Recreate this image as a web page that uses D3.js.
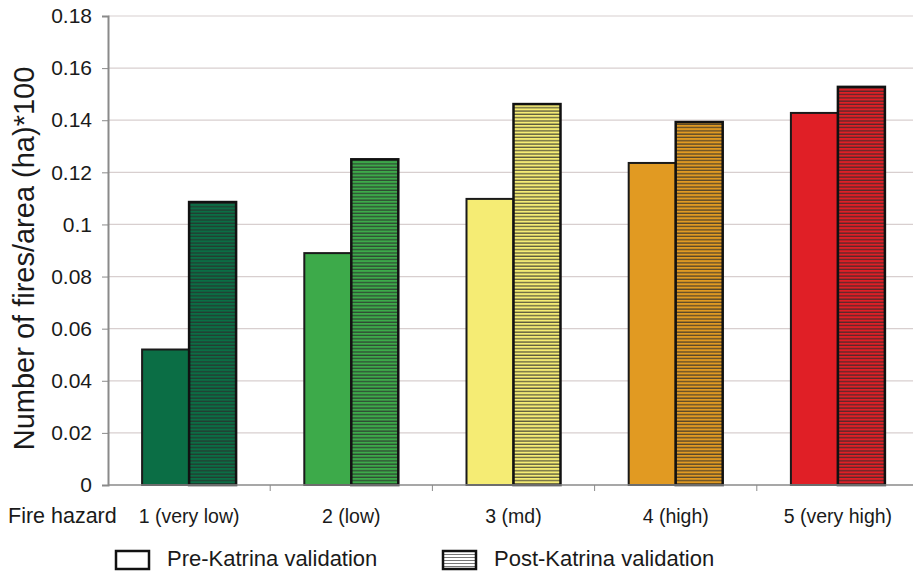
<!DOCTYPE html>
<html>
<head>
<meta charset="utf-8">
<script src="https://cdn.jsdelivr.net/npm/d3@7"></script>
<style>
body { margin: 0; background: #fff; }
text { font-family: "Liberation Sans", Arial, sans-serif; fill: #1a1a1a; }
</style>
</head>
<body>
<div id="chart"></div>
<script>
const categories = ["1 (very low)", "2 (low)", "3 (md)", "4 (high)", "5 (very high)"];
const preKatrina = [0.052, 0.089, 0.1098, 0.1236, 0.1428];
const postKatrina = [0.1086, 0.125, 0.1462, 0.1393, 0.1528];
const hazardColors = ["#0b6e45", "#3daa4a", "#f5ec74", "#e19a22", "#e01f26"];
const yTicks = [0, 0.02, 0.04, 0.06, 0.08, 0.1, 0.12, 0.14, 0.16, 0.18];
const seriesNames = ["Pre-Katrina validation", "Post-Katrina validation"];

const width = 913, height = 573;
const margin = { top: 16, right: -6, bottom: 88, left: 108 };
const innerW = width - margin.left - margin.right;
const innerH = height - margin.top - margin.bottom;

const svg = d3.select("#chart").append("svg")
    .attr("width", width)
    .attr("height", height);

const defs = svg.append("defs");
hazardColors.forEach((c, i) => {
    const p = defs.append("pattern")
        .attr("id", "stripe" + i)
        .attr("patternUnits", "userSpaceOnUse")
        .attr("width", 8)
        .attr("height", 3.3);
    p.append("rect").attr("width", 8).attr("height", 3.3).attr("fill", c);
    p.append("rect").attr("y", 2).attr("width", 8).attr("height", 1.3).attr("fill", "#2a2a2a").attr("opacity", 0.75);
});
const lp = defs.append("pattern")
    .attr("id", "stripeLegend")
    .attr("patternUnits", "userSpaceOnUse")
    .attr("width", 8)
    .attr("height", 3);
lp.append("rect").attr("width", 8).attr("height", 3).attr("fill", "#fff");
lp.append("rect").attr("y", 2).attr("width", 8).attr("height", 1).attr("fill", "#777");

const g = svg.append("g")
    .attr("transform", `translate(${margin.left},${margin.top})`);

const x = d3.scaleBand()
    .domain(categories)
    .range([0, innerW])
    .paddingInner(0)
    .paddingOuter(0);

const y = d3.scaleLinear()
    .domain([0, 0.18])
    .range([innerH, 0]);

// gridlines
g.selectAll(".grid")
    .data(yTicks.slice(1))
    .enter()
    .append("line")
    .attr("x1", 0)
    .attr("x2", width - margin.left)
    .attr("y1", d => y(d))
    .attr("y2", d => y(d))
    .attr("stroke", "#d8cfcf")
    .attr("stroke-width", 1.2);

// y axis
const yAxis = d3.axisLeft(y)
    .tickValues(yTicks)
    .tickFormat(d => d === 0 ? "0" : d3.format("~g")(+d.toFixed(2)))
    .tickSize(6)
    .tickPadding(10);

const yg = g.append("g").call(yAxis);
yg.select(".domain").attr("stroke", "#8a8a8a").attr("stroke-width", 2);
yg.selectAll(".tick line").attr("stroke", "#8a8a8a");
yg.selectAll(".tick text").style("font-size", "21px");

// bars
const sub = d3.scaleBand()
    .domain([0, 1])
    .range([0, 94]);

const groups = g.selectAll(".cat")
    .data(categories)
    .enter()
    .append("g")
    .attr("transform", d => `translate(${x(d) + x.bandwidth() / 2 - 47},0)`);

groups.append("rect")
    .attr("x", sub(0))
    .attr("y", (d, i) => y(preKatrina[i]))
    .attr("width", sub.bandwidth())
    .attr("height", (d, i) => innerH - y(preKatrina[i]))
    .attr("fill", (d, i) => hazardColors[i])
    .attr("stroke", "#1a1a1a")
    .attr("stroke-width", 2);

groups.append("rect")
    .attr("x", sub(1))
    .attr("y", (d, i) => y(postKatrina[i]))
    .attr("width", sub.bandwidth())
    .attr("height", (d, i) => innerH - y(postKatrina[i]))
    .attr("fill", (d, i) => `url(#stripe${i})`)
    .attr("stroke", "#111")
    .attr("stroke-width", 2.5);

// x axis
const xg = g.append("g")
    .attr("transform", `translate(0,${innerH})`);
xg.append("line")
    .attr("x1", 0)
    .attr("x2", width - margin.left)
    .attr("stroke", "#8a8a8a")
    .attr("stroke-width", 1.5);
xg.selectAll(".xtick")
    .data(categories.slice(1))
    .enter()
    .append("line")
    .attr("x1", d => x(d))
    .attr("x2", d => x(d))
    .attr("y1", 0)
    .attr("y2", 6)
    .attr("stroke", "#8a8a8a");
xg.selectAll(".xlabel")
    .data(categories)
    .enter()
    .append("text")
    .attr("x", d => x(d) + x.bandwidth() / 2)
    .attr("y", 523 - margin.top - innerH)
    .attr("text-anchor", "middle")
    .style("font-size", "19.5px")
    .text(d => d);

svg.append("text")
    .attr("x", 8)
    .attr("y", 523)
    .style("font-size", "21.5px")
    .text("Fire hazard");

// y title
svg.append("text")
    .attr("transform", `translate(34,${margin.top + innerH / 2 + 8}) rotate(-90)`)
    .attr("text-anchor", "middle")
    .style("font-size", "29px")
    .text("Number of fires/area (ha)*100");

// legend
const legend = svg.append("g");
const legendItems = [
    { name: seriesNames[0], x: 116, fill: "#fff", tx: 167 },
    { name: seriesNames[1], x: 443, fill: "url(#stripeLegend)", tx: 494 }
];
legend.selectAll("rect")
    .data(legendItems)
    .enter()
    .append("rect")
    .attr("x", d => d.x)
    .attr("y", 551)
    .attr("width", 33)
    .attr("height", 18)
    .attr("fill", d => d.fill)
    .attr("stroke", "#111")
    .attr("stroke-width", 2.5);
legend.selectAll("text")
    .data(legendItems)
    .enter()
    .append("text")
    .attr("x", d => d.tx)
    .attr("y", 566)
    .style("font-size", "22px")
    .text(d => d.name);
</script>
</body>
</html>
